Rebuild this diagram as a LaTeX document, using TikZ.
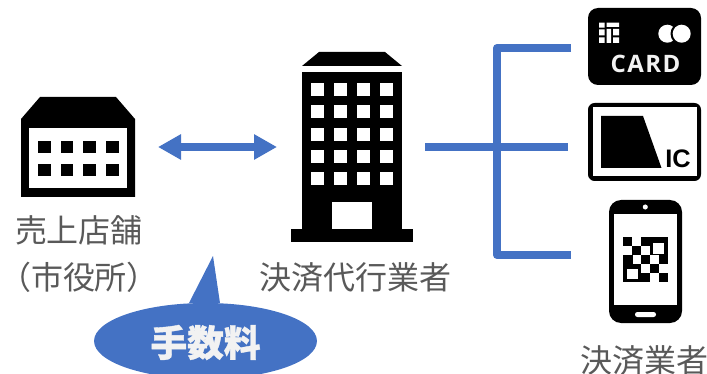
\documentclass[tikz,border=0pt]{standalone}
\usepackage{fontspec}
\setmainfont{Noto Sans CJK JP}
\newfontfamily\cardfont{Open Sans}
\newfontfamily\icfont{Liberation Sans}
\usetikzlibrary{arrows.meta}
\definecolor{accent}{HTML}{4472C4}
\definecolor{labelgray}{HTML}{595959}
\definecolor{softwhite}{HTML}{F2F2F2}
\tikzset{
  label text/.style={text=labelgray,inner sep=0pt,font=\fontsize{24}{28}\selectfont},
  link/.style={draw=accent,line width=6pt,line join=round},
  blk/.style={fill=black,draw=none},
  wht/.style={fill=white,draw=none}
}
\begin{document}
\begin{tikzpicture}[x=0.75pt,y=-0.75pt]
\useasboundingbox (0,0) rectangle (707,374);
% store
\fill[blk] (40,97)--(116,97)--(135,119)--(135,197)--(21,197)--(21,119)--cycle;
\fill[wht] (29,128) rectangle (127,188);
\foreach \x in {38,60.5,83,106}\foreach \y in {141,164}
  \fill[blk] (\x,\y) rectangle ++(12.5,12.5);
\node[label text] (storeA) at (79,230) {売上店舗};
\node[label text] (storeB) at (79,277) {（市役所）};
% office
\fill[blk] (319,52)--(385,52)--(402,66)--(302,66)--cycle;
\fill[blk] (302,72) rectangle (402,229);
\fill[blk] (291,229) rectangle (413,242);
\foreach \x in {311,334,357,380}\foreach \y in {83,105.5,128,150,172}
  \fill[wht] (\x,\y) rectangle ++(12.7,12.7);
\fill[wht] (332,202) rectangle (372,229);
\node[label text] (office) at (355,277) {決済代行業者};
% arrow
\coordinate (arrL) at (158,147);
\coordinate (arrR) at (277,147);
\draw[link,{Triangle[length=17.25pt,width=18pt]}-{Triangle[length=17.25pt,width=18pt]}] (arrL) -- (arrR);
% fan-out
\coordinate (feedA) at (425,147);
\coordinate (feedB) at (568,147);
\coordinate (cTop) at (571,48);
\coordinate (cCorner) at (497,48);
\coordinate (cLow) at (497,255);
\coordinate (cEnd) at (571,255);
\draw[link] (feedA) -- (feedB);
\draw[link] (cTop) -- (cCorner) -- (cLow) -- (cEnd);
% card
\fill[blk,rounded corners=7.5pt] (588,8) rectangle (701,85);
\fill[wht] (599,22.7) rectangle (604.5,27.7) (599,29.5) rectangle (604.5,35.5) (599,37.5) rectangle (604.5,43);
\fill[wht] (606.5,22.7) rectangle (619,27) (606.5,29) rectangle (611,43) (613,29) rectangle (619,35.5) (613,37.5) rectangle (619,43);
\fill[wht] (667.3,33.7) circle [radius=6.75pt];
\fill[blk] (681.7,33.7) circle [radius=8.4pt];
\fill[wht] (681.7,33.7) circle [radius=6.75pt];
\node[inner sep=0pt,text=softwhite,font=\cardfont\bfseries\fontsize{18}{20}\selectfont] (cardt) at (645.5,64) {\addfontfeature{LetterSpace=6}CARD};
% ic
\fill[blk,rounded corners=5pt] (588,103) rectangle (701,181);
\fill[wht] (592.5,107.5) rectangle (696.5,176.5);
\fill[blk] (601,116)--(643,116)--(661.5,168)--(601,168)--cycle;
\node[inner sep=0pt,text=black,font=\icfont\bfseries\fontsize{19}{22}\selectfont] (ict) at (678,159) {IC};
% phone
\fill[blk,rounded corners=9pt] (609,200) rectangle (682,323);
\fill[wht] (614,214) rectangle (677,305);
\fill[wht] (645.3,207) circle [radius=1.9pt];
\fill[wht,rounded corners=1.8pt] (635,312) rectangle (656,317);
\begin{scope}[shift={(623.3,237.3)}]
\def\qc{8.9}
\fill[blk] (0,0) rectangle (44.5,44.5);
\foreach \c/\r in {2/1,1/2,3/2,2/3}
  \fill[wht] ({\c*\qc+0.3},{\r*\qc+0.3}) rectangle ++(8.3,8.3);
% notches open to the outer edge
\fill[wht] (8.9,-0.5) rectangle (17.8,8.9);
\fill[wht] (-0.5,8.9) rectangle (8.9,17.8);
\fill[wht] (35.6,26.7) rectangle (45,35.6);
\fill[wht] (26.7,35.6) rectangle (35.6,45);
\fill[wht] (30,6.2) rectangle ++(10.5,10.5);
\fill[wht] (3.8,31.5) rectangle ++(10.5,10.5);
\end{scope}
\node[label text] (payer) at (644.5,360) {決済業者};
% callout
\fill[accent] (189,303)--(213,256)--(220,303)--cycle;
\begin{scope}
\clip (0,0) rectangle (707,374);
\fill[accent] (205.5,341) ellipse [x radius=83.6pt,y radius=28.5pt];
\end{scope}
\node[inner sep=0pt,text=softwhite,font=\bfseries\fontsize{27.5}{30}\selectfont] (fee) at (205.5,342.5) {\addfontfeature{FakeBold=1}手数料};
\end{tikzpicture}
\end{document}
